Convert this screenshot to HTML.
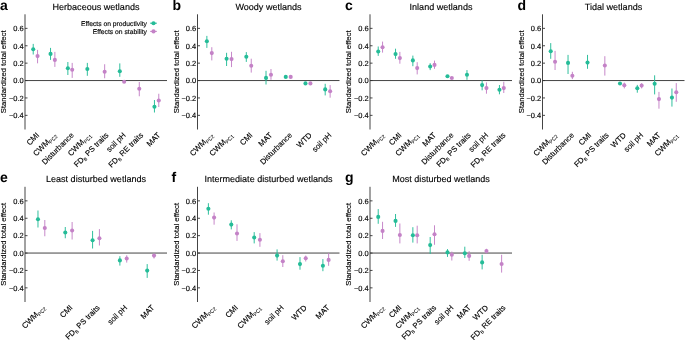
<!DOCTYPE html>
<html><head><meta charset="utf-8"><style>
html,body{margin:0;padding:0;background:#fff;width:685px;height:340px;overflow:hidden}
body{position:relative}
svg text{font-family:"Liberation Sans", sans-serif;fill:#000;stroke:#000;stroke-width:0.14px;text-rendering:geometricPrecision}
</style></head><body>
<svg width="685" height="340" viewBox="0 0 685 340" style="position:absolute;left:0;top:0;will-change:transform">
<text x="0.1" y="9.8" font-size="14" font-weight="bold" style="stroke-width:0">a</text>
<text x="96" y="9.9" font-size="9.05" text-anchor="middle">Herbaceous wetlands</text>
<text transform="translate(6.1,71.85) rotate(-90)" font-size="7.7" text-anchor="middle" style="text-rendering:optimizeLegibility">Standardized total effect</text>
<line x1="25" y1="14.3" x2="25" y2="129.5" stroke="#444" stroke-width="1"/>
<line x1="25" y1="80.55" x2="167" y2="80.55" stroke="#444" stroke-width="1"/>
<line x1="25" y1="28.35" x2="27.5" y2="28.35" stroke="#333" stroke-width="0.9"/>
<text x="23.7" y="31.1" font-size="7.5" text-anchor="end">0.6</text>
<line x1="25" y1="45.75" x2="27.5" y2="45.75" stroke="#333" stroke-width="0.9"/>
<text x="23.7" y="48.5" font-size="7.5" text-anchor="end">0.4</text>
<line x1="25" y1="63.15" x2="27.5" y2="63.15" stroke="#333" stroke-width="0.9"/>
<text x="23.7" y="65.9" font-size="7.5" text-anchor="end">0.2</text>
<line x1="25" y1="80.55" x2="27.5" y2="80.55" stroke="#333" stroke-width="0.9"/>
<text x="23.7" y="83.3" font-size="7.5" text-anchor="end">0.0</text>
<line x1="25" y1="97.95" x2="27.5" y2="97.95" stroke="#333" stroke-width="0.9"/>
<text x="23.7" y="100.7" font-size="7.5" text-anchor="end">−0.2</text>
<line x1="25" y1="115.35" x2="27.5" y2="115.35" stroke="#333" stroke-width="0.9"/>
<text x="23.7" y="118.1" font-size="7.5" text-anchor="end">−0.4</text>
<line x1="33.23" y1="43.9" x2="33.23" y2="54.5" stroke="#25bc98" stroke-width="0.95"/>
<circle cx="33.23" cy="49.2" r="2.05" fill="#25bc98"/>
<line x1="37.55" y1="49.9" x2="37.55" y2="63.3" stroke="#c482c7" stroke-width="0.95"/>
<circle cx="37.55" cy="56.1" r="2.05" fill="#c482c7"/>
<text transform="translate(39.74,135.65) rotate(-45)" text-anchor="end" font-size="7.8">CMI</text>
<line x1="50.54" y1="47.9" x2="50.54" y2="59.9" stroke="#25bc98" stroke-width="0.95"/>
<circle cx="50.54" cy="53.9" r="2.05" fill="#25bc98"/>
<line x1="54.87" y1="51.9" x2="54.87" y2="66.9" stroke="#c482c7" stroke-width="0.95"/>
<circle cx="54.87" cy="59.9" r="2.05" fill="#c482c7"/>
<text transform="translate(57.06,135.65) rotate(-45)" text-anchor="end" font-size="7.8">CWM<tspan font-size="5.1" dy="1.5" style="stroke-width:0.05px">PC2</tspan></text>
<line x1="67.86" y1="62" x2="67.86" y2="75" stroke="#25bc98" stroke-width="0.95"/>
<circle cx="67.86" cy="68.3" r="2.05" fill="#25bc98"/>
<line x1="72.19" y1="62.9" x2="72.19" y2="77.9" stroke="#c482c7" stroke-width="0.95"/>
<circle cx="72.19" cy="69.7" r="2.05" fill="#c482c7"/>
<text transform="translate(74.37,135.65) rotate(-45)" text-anchor="end" font-size="7.8">Disturbance</text>
<line x1="87.34" y1="62.9" x2="87.34" y2="75.8" stroke="#25bc98" stroke-width="0.95"/>
<circle cx="87.34" cy="69" r="2.05" fill="#25bc98"/>
<text transform="translate(91.69,135.65) rotate(-45)" text-anchor="end" font-size="7.8">CWM<tspan font-size="5.1" dy="1.5" style="stroke-width:0.05px">PC1</tspan></text>
<line x1="104.66" y1="64.25" x2="104.66" y2="78.25" stroke="#c482c7" stroke-width="0.95"/>
<circle cx="104.66" cy="71.75" r="2.05" fill="#c482c7"/>
<text transform="translate(109.01,135.65) rotate(-45)" text-anchor="end" font-size="7.8">FD<tspan font-size="4.7" dy="1.6" style="stroke-width:0.05px">B</tspan><tspan dy="-1.6"> PS traits</tspan></text>
<line x1="119.81" y1="63.4" x2="119.81" y2="76.8" stroke="#25bc98" stroke-width="0.95"/>
<circle cx="119.81" cy="71.2" r="2.05" fill="#25bc98"/>
<line x1="124.14" y1="80.8" x2="124.14" y2="82.8" stroke="#c482c7" stroke-width="0.95"/>
<circle cx="124.14" cy="81.8" r="2.05" fill="#c482c7"/>
<text transform="translate(126.33,135.65) rotate(-45)" text-anchor="end" font-size="7.8">soil pH</text>
<line x1="139.29" y1="82" x2="139.29" y2="96.25" stroke="#c482c7" stroke-width="0.95"/>
<circle cx="139.29" cy="88.75" r="2.05" fill="#c482c7"/>
<text transform="translate(143.64,135.65) rotate(-45)" text-anchor="end" font-size="7.8">FD<tspan font-size="4.7" dy="1.6" style="stroke-width:0.05px">B</tspan><tspan dy="-1.6"> RE traits</tspan></text>
<line x1="154.45" y1="100" x2="154.45" y2="112.5" stroke="#25bc98" stroke-width="0.95"/>
<circle cx="154.45" cy="106.75" r="2.05" fill="#25bc98"/>
<line x1="158.77" y1="93.75" x2="158.77" y2="107" stroke="#c482c7" stroke-width="0.95"/>
<circle cx="158.77" cy="100.5" r="2.05" fill="#c482c7"/>
<text transform="translate(160.96,135.65) rotate(-45)" text-anchor="end" font-size="7.8">MAT</text>
<text x="147" y="26" font-size="6.75" text-anchor="end">Effects on productivity</text>
<text x="147" y="34" font-size="6.75" text-anchor="end">Effects on stability</text>
<line x1="150.2" y1="23.2" x2="156.8" y2="23.2" stroke="#25bc98" stroke-width="1.1"/>
<circle cx="153.5" cy="23.2" r="2.05" fill="#25bc98"/>
<line x1="150.2" y1="31.4" x2="156.8" y2="31.4" stroke="#c482c7" stroke-width="1.1"/>
<circle cx="153.5" cy="31.4" r="2.05" fill="#c482c7"/>
<text x="172.6" y="9.8" font-size="14" font-weight="bold" style="stroke-width:0">b</text>
<text x="268.5" y="9.9" font-size="9.05" text-anchor="middle">Woody wetlands</text>
<text transform="translate(178.6,71.85) rotate(-90)" font-size="7.7" text-anchor="middle" style="text-rendering:optimizeLegibility">Standardized total effect</text>
<line x1="197.5" y1="14.3" x2="197.5" y2="129.5" stroke="#444" stroke-width="1"/>
<line x1="197.5" y1="80.55" x2="339.5" y2="80.55" stroke="#444" stroke-width="1"/>
<line x1="197.5" y1="28.35" x2="200" y2="28.35" stroke="#333" stroke-width="0.9"/>
<text x="196.2" y="31.1" font-size="7.5" text-anchor="end">0.6</text>
<line x1="197.5" y1="45.75" x2="200" y2="45.75" stroke="#333" stroke-width="0.9"/>
<text x="196.2" y="48.5" font-size="7.5" text-anchor="end">0.4</text>
<line x1="197.5" y1="63.15" x2="200" y2="63.15" stroke="#333" stroke-width="0.9"/>
<text x="196.2" y="65.9" font-size="7.5" text-anchor="end">0.2</text>
<line x1="197.5" y1="80.55" x2="200" y2="80.55" stroke="#333" stroke-width="0.9"/>
<text x="196.2" y="83.3" font-size="7.5" text-anchor="end">0.0</text>
<line x1="197.5" y1="97.95" x2="200" y2="97.95" stroke="#333" stroke-width="0.9"/>
<text x="196.2" y="100.7" font-size="7.5" text-anchor="end">−0.2</text>
<line x1="197.5" y1="115.35" x2="200" y2="115.35" stroke="#333" stroke-width="0.9"/>
<text x="196.2" y="118.1" font-size="7.5" text-anchor="end">−0.4</text>
<line x1="206.87" y1="35.9" x2="206.87" y2="47.9" stroke="#25bc98" stroke-width="0.95"/>
<circle cx="206.87" cy="41.3" r="2.05" fill="#25bc98"/>
<line x1="211.8" y1="47.2" x2="211.8" y2="60.4" stroke="#c482c7" stroke-width="0.95"/>
<circle cx="211.8" cy="53.1" r="2.05" fill="#c482c7"/>
<text transform="translate(213.68,135.65) rotate(-45)" text-anchor="end" font-size="7.8">CWM<tspan font-size="5.1" dy="1.5" style="stroke-width:0.05px">PC2</tspan></text>
<line x1="226.59" y1="52.8" x2="226.59" y2="66" stroke="#25bc98" stroke-width="0.95"/>
<circle cx="226.59" cy="58.7" r="2.05" fill="#25bc98"/>
<line x1="231.52" y1="51.8" x2="231.52" y2="67.1" stroke="#c482c7" stroke-width="0.95"/>
<circle cx="231.52" cy="59.1" r="2.05" fill="#c482c7"/>
<text transform="translate(233.41,135.65) rotate(-45)" text-anchor="end" font-size="7.8">CWM<tspan font-size="5.1" dy="1.5" style="stroke-width:0.05px">PC1</tspan></text>
<line x1="246.31" y1="52.1" x2="246.31" y2="61.9" stroke="#25bc98" stroke-width="0.95"/>
<circle cx="246.31" cy="56.8" r="2.05" fill="#25bc98"/>
<line x1="251.24" y1="58.7" x2="251.24" y2="72.6" stroke="#c482c7" stroke-width="0.95"/>
<circle cx="251.24" cy="65.7" r="2.05" fill="#c482c7"/>
<text transform="translate(253.13,135.65) rotate(-45)" text-anchor="end" font-size="7.8">CMI</text>
<line x1="266.03" y1="70.8" x2="266.03" y2="84.5" stroke="#25bc98" stroke-width="0.95"/>
<circle cx="266.03" cy="77.9" r="2.05" fill="#25bc98"/>
<line x1="270.97" y1="69" x2="270.97" y2="79.8" stroke="#c482c7" stroke-width="0.95"/>
<circle cx="270.97" cy="74.8" r="2.05" fill="#c482c7"/>
<text transform="translate(272.85,135.65) rotate(-45)" text-anchor="end" font-size="7.8">MAT</text>
<line x1="285.76" y1="76" x2="285.76" y2="77.8" stroke="#25bc98" stroke-width="0.95"/>
<circle cx="285.76" cy="76.9" r="2.05" fill="#25bc98"/>
<line x1="290.69" y1="76" x2="290.69" y2="77.8" stroke="#c482c7" stroke-width="0.95"/>
<circle cx="290.69" cy="76.9" r="2.05" fill="#c482c7"/>
<text transform="translate(292.57,135.65) rotate(-45)" text-anchor="end" font-size="7.8">Disturbance</text>
<line x1="305.48" y1="82.5" x2="305.48" y2="84.3" stroke="#25bc98" stroke-width="0.95"/>
<circle cx="305.48" cy="83.4" r="2.05" fill="#25bc98"/>
<line x1="310.41" y1="82.5" x2="310.41" y2="84.3" stroke="#c482c7" stroke-width="0.95"/>
<circle cx="310.41" cy="83.4" r="2.05" fill="#c482c7"/>
<text transform="translate(312.29,135.65) rotate(-45)" text-anchor="end" font-size="7.8">WTD</text>
<line x1="325.2" y1="83.8" x2="325.2" y2="95.4" stroke="#25bc98" stroke-width="0.95"/>
<circle cx="325.2" cy="89.4" r="2.05" fill="#25bc98"/>
<line x1="330.13" y1="85.1" x2="330.13" y2="97.7" stroke="#c482c7" stroke-width="0.95"/>
<circle cx="330.13" cy="91.3" r="2.05" fill="#c482c7"/>
<text transform="translate(332.02,135.65) rotate(-45)" text-anchor="end" font-size="7.8">soil pH</text>
<text x="345.1" y="9.8" font-size="14" font-weight="bold" style="stroke-width:0">c</text>
<text x="441" y="9.9" font-size="9.05" text-anchor="middle">Inland wetlands</text>
<text transform="translate(351.1,71.85) rotate(-90)" font-size="7.7" text-anchor="middle" style="text-rendering:optimizeLegibility">Standardized total effect</text>
<line x1="370" y1="14.3" x2="370" y2="129.5" stroke="#444" stroke-width="1"/>
<line x1="370" y1="80.55" x2="512" y2="80.55" stroke="#444" stroke-width="1"/>
<line x1="370" y1="28.35" x2="372.5" y2="28.35" stroke="#333" stroke-width="0.9"/>
<text x="368.7" y="31.1" font-size="7.5" text-anchor="end">0.6</text>
<line x1="370" y1="45.75" x2="372.5" y2="45.75" stroke="#333" stroke-width="0.9"/>
<text x="368.7" y="48.5" font-size="7.5" text-anchor="end">0.4</text>
<line x1="370" y1="63.15" x2="372.5" y2="63.15" stroke="#333" stroke-width="0.9"/>
<text x="368.7" y="65.9" font-size="7.5" text-anchor="end">0.2</text>
<line x1="370" y1="80.55" x2="372.5" y2="80.55" stroke="#333" stroke-width="0.9"/>
<text x="368.7" y="83.3" font-size="7.5" text-anchor="end">0.0</text>
<line x1="370" y1="97.95" x2="372.5" y2="97.95" stroke="#333" stroke-width="0.9"/>
<text x="368.7" y="100.7" font-size="7.5" text-anchor="end">−0.2</text>
<line x1="370" y1="115.35" x2="372.5" y2="115.35" stroke="#333" stroke-width="0.9"/>
<text x="368.7" y="118.1" font-size="7.5" text-anchor="end">−0.4</text>
<line x1="378.23" y1="46.5" x2="378.23" y2="55.9" stroke="#25bc98" stroke-width="0.95"/>
<circle cx="378.23" cy="51.5" r="2.05" fill="#25bc98"/>
<line x1="382.55" y1="41.6" x2="382.55" y2="52.6" stroke="#c482c7" stroke-width="0.95"/>
<circle cx="382.55" cy="47.2" r="2.05" fill="#c482c7"/>
<text transform="translate(384.74,135.65) rotate(-45)" text-anchor="end" font-size="7.8">CWM<tspan font-size="5.1" dy="1.5" style="stroke-width:0.05px">PC2</tspan></text>
<line x1="395.54" y1="48.7" x2="395.54" y2="58.8" stroke="#25bc98" stroke-width="0.95"/>
<circle cx="395.54" cy="54.1" r="2.05" fill="#25bc98"/>
<line x1="399.87" y1="51.9" x2="399.87" y2="63.7" stroke="#c482c7" stroke-width="0.95"/>
<circle cx="399.87" cy="58.1" r="2.05" fill="#c482c7"/>
<text transform="translate(402.06,135.65) rotate(-45)" text-anchor="end" font-size="7.8">CMI</text>
<line x1="412.86" y1="55.6" x2="412.86" y2="66.2" stroke="#25bc98" stroke-width="0.95"/>
<circle cx="412.86" cy="60.4" r="2.05" fill="#25bc98"/>
<line x1="417.19" y1="62.2" x2="417.19" y2="74.4" stroke="#c482c7" stroke-width="0.95"/>
<circle cx="417.19" cy="68.1" r="2.05" fill="#c482c7"/>
<text transform="translate(419.37,135.65) rotate(-45)" text-anchor="end" font-size="7.8">CWM<tspan font-size="5.1" dy="1.5" style="stroke-width:0.05px">PC1</tspan></text>
<line x1="430.18" y1="63.2" x2="430.18" y2="70.1" stroke="#25bc98" stroke-width="0.95"/>
<circle cx="430.18" cy="66.5" r="2.05" fill="#25bc98"/>
<line x1="434.51" y1="60.6" x2="434.51" y2="68.8" stroke="#c482c7" stroke-width="0.95"/>
<circle cx="434.51" cy="64.9" r="2.05" fill="#c482c7"/>
<text transform="translate(436.69,135.65) rotate(-45)" text-anchor="end" font-size="7.8">MAT</text>
<line x1="447.49" y1="75" x2="447.49" y2="77.4" stroke="#25bc98" stroke-width="0.95"/>
<circle cx="447.49" cy="76.2" r="2.05" fill="#25bc98"/>
<line x1="451.82" y1="77" x2="451.82" y2="79" stroke="#c482c7" stroke-width="0.95"/>
<circle cx="451.82" cy="78" r="2.05" fill="#c482c7"/>
<text transform="translate(454.01,135.65) rotate(-45)" text-anchor="end" font-size="7.8">Disturbance</text>
<line x1="466.98" y1="70.1" x2="466.98" y2="79.8" stroke="#25bc98" stroke-width="0.95"/>
<circle cx="466.98" cy="74.7" r="2.05" fill="#25bc98"/>
<text transform="translate(471.33,135.65) rotate(-45)" text-anchor="end" font-size="7.8">FD<tspan font-size="4.7" dy="1.6" style="stroke-width:0.05px">B</tspan><tspan dy="-1.6"> PS traits</tspan></text>
<line x1="482.13" y1="80.4" x2="482.13" y2="90.3" stroke="#25bc98" stroke-width="0.95"/>
<circle cx="482.13" cy="85.1" r="2.05" fill="#25bc98"/>
<line x1="486.46" y1="82.4" x2="486.46" y2="93.7" stroke="#c482c7" stroke-width="0.95"/>
<circle cx="486.46" cy="88.1" r="2.05" fill="#c482c7"/>
<text transform="translate(488.64,135.65) rotate(-45)" text-anchor="end" font-size="7.8">soil pH</text>
<line x1="499.45" y1="85" x2="499.45" y2="94.3" stroke="#25bc98" stroke-width="0.95"/>
<circle cx="499.45" cy="89.7" r="2.05" fill="#25bc98"/>
<line x1="503.77" y1="81.7" x2="503.77" y2="93" stroke="#c482c7" stroke-width="0.95"/>
<circle cx="503.77" cy="88.1" r="2.05" fill="#c482c7"/>
<text transform="translate(505.96,135.65) rotate(-45)" text-anchor="end" font-size="7.8">FD<tspan font-size="4.7" dy="1.6" style="stroke-width:0.05px">B</tspan><tspan dy="-1.6"> RE traits</tspan></text>
<text x="517.6" y="9.8" font-size="14" font-weight="bold" style="stroke-width:0">d</text>
<text x="613.5" y="9.9" font-size="9.05" text-anchor="middle">Tidal wetlands</text>
<text transform="translate(523.6,71.85) rotate(-90)" font-size="7.7" text-anchor="middle" style="text-rendering:optimizeLegibility">Standardized total effect</text>
<line x1="542.5" y1="14.3" x2="542.5" y2="129.5" stroke="#444" stroke-width="1"/>
<line x1="542.5" y1="80.55" x2="684.5" y2="80.55" stroke="#444" stroke-width="1"/>
<line x1="542.5" y1="28.35" x2="545" y2="28.35" stroke="#333" stroke-width="0.9"/>
<text x="541.2" y="31.1" font-size="7.5" text-anchor="end">0.6</text>
<line x1="542.5" y1="45.75" x2="545" y2="45.75" stroke="#333" stroke-width="0.9"/>
<text x="541.2" y="48.5" font-size="7.5" text-anchor="end">0.4</text>
<line x1="542.5" y1="63.15" x2="545" y2="63.15" stroke="#333" stroke-width="0.9"/>
<text x="541.2" y="65.9" font-size="7.5" text-anchor="end">0.2</text>
<line x1="542.5" y1="80.55" x2="545" y2="80.55" stroke="#333" stroke-width="0.9"/>
<text x="541.2" y="83.3" font-size="7.5" text-anchor="end">0.0</text>
<line x1="542.5" y1="97.95" x2="545" y2="97.95" stroke="#333" stroke-width="0.9"/>
<text x="541.2" y="100.7" font-size="7.5" text-anchor="end">−0.2</text>
<line x1="542.5" y1="115.35" x2="545" y2="115.35" stroke="#333" stroke-width="0.9"/>
<text x="541.2" y="118.1" font-size="7.5" text-anchor="end">−0.4</text>
<line x1="550.73" y1="43.1" x2="550.73" y2="58.8" stroke="#25bc98" stroke-width="0.95"/>
<circle cx="550.73" cy="51.2" r="2.05" fill="#25bc98"/>
<line x1="555.05" y1="50.9" x2="555.05" y2="70" stroke="#c482c7" stroke-width="0.95"/>
<circle cx="555.05" cy="61.8" r="2.05" fill="#c482c7"/>
<text transform="translate(557.24,135.65) rotate(-45)" text-anchor="end" font-size="7.8">CWM<tspan font-size="5.1" dy="1.5" style="stroke-width:0.05px">PC2</tspan></text>
<line x1="568.04" y1="54.9" x2="568.04" y2="74" stroke="#25bc98" stroke-width="0.95"/>
<circle cx="568.04" cy="62.9" r="2.05" fill="#25bc98"/>
<line x1="572.37" y1="71.8" x2="572.37" y2="79.1" stroke="#c482c7" stroke-width="0.95"/>
<circle cx="572.37" cy="75.7" r="2.05" fill="#c482c7"/>
<text transform="translate(574.56,135.65) rotate(-45)" text-anchor="end" font-size="7.8">Disturbance</text>
<line x1="587.52" y1="54.9" x2="587.52" y2="68.8" stroke="#25bc98" stroke-width="0.95"/>
<circle cx="587.52" cy="62.6" r="2.05" fill="#25bc98"/>
<text transform="translate(591.87,135.65) rotate(-45)" text-anchor="end" font-size="7.8">CMI</text>
<line x1="604.84" y1="56.2" x2="604.84" y2="75.6" stroke="#c482c7" stroke-width="0.95"/>
<circle cx="604.84" cy="65.5" r="2.05" fill="#c482c7"/>
<text transform="translate(609.19,135.65) rotate(-45)" text-anchor="end" font-size="7.8">FD<tspan font-size="4.7" dy="1.6" style="stroke-width:0.05px">B</tspan><tspan dy="-1.6"> PS traits</tspan></text>
<line x1="619.99" y1="82.5" x2="619.99" y2="84.5" stroke="#25bc98" stroke-width="0.95"/>
<circle cx="619.99" cy="83.5" r="2.05" fill="#25bc98"/>
<line x1="624.32" y1="82.6" x2="624.32" y2="88.4" stroke="#c482c7" stroke-width="0.95"/>
<circle cx="624.32" cy="85.3" r="2.05" fill="#c482c7"/>
<text transform="translate(626.51,135.65) rotate(-45)" text-anchor="end" font-size="7.8">WTD</text>
<line x1="637.31" y1="84.9" x2="637.31" y2="92.7" stroke="#25bc98" stroke-width="0.95"/>
<circle cx="637.31" cy="88.3" r="2.05" fill="#25bc98"/>
<line x1="641.64" y1="83.2" x2="641.64" y2="88.4" stroke="#c482c7" stroke-width="0.95"/>
<circle cx="641.64" cy="85.6" r="2.05" fill="#c482c7"/>
<text transform="translate(643.83,135.65) rotate(-45)" text-anchor="end" font-size="7.8">soil pH</text>
<line x1="654.63" y1="75.3" x2="654.63" y2="94.4" stroke="#25bc98" stroke-width="0.95"/>
<circle cx="654.63" cy="83.8" r="2.05" fill="#25bc98"/>
<line x1="658.96" y1="91.9" x2="658.96" y2="108.7" stroke="#c482c7" stroke-width="0.95"/>
<circle cx="658.96" cy="99.1" r="2.05" fill="#c482c7"/>
<text transform="translate(661.14,135.65) rotate(-45)" text-anchor="end" font-size="7.8">MAT</text>
<line x1="671.95" y1="88.5" x2="671.95" y2="106.6" stroke="#25bc98" stroke-width="0.95"/>
<circle cx="671.95" cy="97.6" r="2.05" fill="#25bc98"/>
<line x1="676.27" y1="83.1" x2="676.27" y2="101.8" stroke="#c482c7" stroke-width="0.95"/>
<circle cx="676.27" cy="92.2" r="2.05" fill="#c482c7"/>
<text transform="translate(678.46,135.65) rotate(-45)" text-anchor="end" font-size="7.8">CWM<tspan font-size="5.1" dy="1.5" style="stroke-width:0.05px">PC1</tspan></text>
<text x="0.1" y="182.3" font-size="14" font-weight="bold" style="stroke-width:0">e</text>
<text x="96" y="182.4" font-size="9.05" text-anchor="middle">Least disturbed wetlands</text>
<text transform="translate(6.1,244.35) rotate(-90)" font-size="7.7" text-anchor="middle" style="text-rendering:optimizeLegibility">Standardized total effect</text>
<line x1="25" y1="186.8" x2="25" y2="302" stroke="#444" stroke-width="1"/>
<line x1="25" y1="253.05" x2="167" y2="253.05" stroke="#444" stroke-width="1"/>
<line x1="25" y1="200.85" x2="27.5" y2="200.85" stroke="#333" stroke-width="0.9"/>
<text x="23.7" y="203.6" font-size="7.5" text-anchor="end">0.6</text>
<line x1="25" y1="218.25" x2="27.5" y2="218.25" stroke="#333" stroke-width="0.9"/>
<text x="23.7" y="221" font-size="7.5" text-anchor="end">0.4</text>
<line x1="25" y1="235.65" x2="27.5" y2="235.65" stroke="#333" stroke-width="0.9"/>
<text x="23.7" y="238.4" font-size="7.5" text-anchor="end">0.2</text>
<line x1="25" y1="253.05" x2="27.5" y2="253.05" stroke="#333" stroke-width="0.9"/>
<text x="23.7" y="255.8" font-size="7.5" text-anchor="end">0.0</text>
<line x1="25" y1="270.45" x2="27.5" y2="270.45" stroke="#333" stroke-width="0.9"/>
<text x="23.7" y="273.2" font-size="7.5" text-anchor="end">−0.2</text>
<line x1="25" y1="287.85" x2="27.5" y2="287.85" stroke="#333" stroke-width="0.9"/>
<text x="23.7" y="290.6" font-size="7.5" text-anchor="end">−0.4</text>
<line x1="37.97" y1="210.5" x2="37.97" y2="227.5" stroke="#25bc98" stroke-width="0.95"/>
<circle cx="37.97" cy="219.25" r="2.05" fill="#25bc98"/>
<line x1="44.8" y1="220" x2="44.8" y2="236.25" stroke="#c482c7" stroke-width="0.95"/>
<circle cx="44.8" cy="228" r="2.05" fill="#c482c7"/>
<text transform="translate(45.73,308.15) rotate(-45)" text-anchor="end" font-size="7.8">CWM<tspan font-size="5.1" dy="1.5" style="stroke-width:0.05px">PC2</tspan></text>
<line x1="65.28" y1="227" x2="65.28" y2="238.25" stroke="#25bc98" stroke-width="0.95"/>
<circle cx="65.28" cy="232.5" r="2.05" fill="#25bc98"/>
<line x1="72.11" y1="222" x2="72.11" y2="239.5" stroke="#c482c7" stroke-width="0.95"/>
<circle cx="72.11" cy="230.5" r="2.05" fill="#c482c7"/>
<text transform="translate(73.04,308.15) rotate(-45)" text-anchor="end" font-size="7.8">CMI</text>
<line x1="92.59" y1="230.9" x2="92.59" y2="248.5" stroke="#25bc98" stroke-width="0.95"/>
<circle cx="92.59" cy="240.2" r="2.05" fill="#25bc98"/>
<line x1="99.41" y1="229.1" x2="99.41" y2="245.5" stroke="#c482c7" stroke-width="0.95"/>
<circle cx="99.41" cy="238.3" r="2.05" fill="#c482c7"/>
<text transform="translate(100.35,308.15) rotate(-45)" text-anchor="end" font-size="7.8">FD<tspan font-size="4.7" dy="1.6" style="stroke-width:0.05px">B</tspan><tspan dy="-1.6"> PS traits</tspan></text>
<line x1="119.89" y1="256.2" x2="119.89" y2="265.6" stroke="#25bc98" stroke-width="0.95"/>
<circle cx="119.89" cy="260.4" r="2.05" fill="#25bc98"/>
<line x1="126.72" y1="255.3" x2="126.72" y2="262.6" stroke="#c482c7" stroke-width="0.95"/>
<circle cx="126.72" cy="258.5" r="2.05" fill="#c482c7"/>
<text transform="translate(127.66,308.15) rotate(-45)" text-anchor="end" font-size="7.8">soil pH</text>
<line x1="147.2" y1="264.1" x2="147.2" y2="277.9" stroke="#25bc98" stroke-width="0.95"/>
<circle cx="147.2" cy="270.6" r="2.05" fill="#25bc98"/>
<line x1="154.03" y1="253.9" x2="154.03" y2="258.5" stroke="#c482c7" stroke-width="0.95"/>
<circle cx="154.03" cy="255.6" r="2.05" fill="#c482c7"/>
<text transform="translate(154.97,308.15) rotate(-45)" text-anchor="end" font-size="7.8">MAT</text>
<text x="171.6" y="182.3" font-size="14" font-weight="bold" style="stroke-width:0">f</text>
<text x="268.5" y="182.4" font-size="9.05" text-anchor="middle">Intermediate disturbed wetlands</text>
<text transform="translate(178.6,244.35) rotate(-90)" font-size="7.7" text-anchor="middle" style="text-rendering:optimizeLegibility">Standardized total effect</text>
<line x1="197.5" y1="186.8" x2="197.5" y2="302" stroke="#444" stroke-width="1"/>
<line x1="197.5" y1="253.05" x2="339.5" y2="253.05" stroke="#444" stroke-width="1"/>
<line x1="197.5" y1="200.85" x2="200" y2="200.85" stroke="#333" stroke-width="0.9"/>
<text x="196.2" y="203.6" font-size="7.5" text-anchor="end">0.6</text>
<line x1="197.5" y1="218.25" x2="200" y2="218.25" stroke="#333" stroke-width="0.9"/>
<text x="196.2" y="221" font-size="7.5" text-anchor="end">0.4</text>
<line x1="197.5" y1="235.65" x2="200" y2="235.65" stroke="#333" stroke-width="0.9"/>
<text x="196.2" y="238.4" font-size="7.5" text-anchor="end">0.2</text>
<line x1="197.5" y1="253.05" x2="200" y2="253.05" stroke="#333" stroke-width="0.9"/>
<text x="196.2" y="255.8" font-size="7.5" text-anchor="end">0.0</text>
<line x1="197.5" y1="270.45" x2="200" y2="270.45" stroke="#333" stroke-width="0.9"/>
<text x="196.2" y="273.2" font-size="7.5" text-anchor="end">−0.2</text>
<line x1="197.5" y1="287.85" x2="200" y2="287.85" stroke="#333" stroke-width="0.9"/>
<text x="196.2" y="290.6" font-size="7.5" text-anchor="end">−0.4</text>
<line x1="208.38" y1="203.2" x2="208.38" y2="214.7" stroke="#25bc98" stroke-width="0.95"/>
<circle cx="208.38" cy="208.8" r="2.05" fill="#25bc98"/>
<line x1="214.1" y1="212.5" x2="214.1" y2="224.7" stroke="#c482c7" stroke-width="0.95"/>
<circle cx="214.1" cy="217.6" r="2.05" fill="#c482c7"/>
<text transform="translate(215.59,308.15) rotate(-45)" text-anchor="end" font-size="7.8">CWM<tspan font-size="5.1" dy="1.5" style="stroke-width:0.05px">PC2</tspan></text>
<line x1="231.28" y1="220.3" x2="231.28" y2="229.4" stroke="#25bc98" stroke-width="0.95"/>
<circle cx="231.28" cy="224.6" r="2.05" fill="#25bc98"/>
<line x1="237.01" y1="224.3" x2="237.01" y2="240.9" stroke="#c482c7" stroke-width="0.95"/>
<circle cx="237.01" cy="233.5" r="2.05" fill="#c482c7"/>
<text transform="translate(238.5,308.15) rotate(-45)" text-anchor="end" font-size="7.8">CMI</text>
<line x1="254.19" y1="232.1" x2="254.19" y2="243.4" stroke="#25bc98" stroke-width="0.95"/>
<circle cx="254.19" cy="237.5" r="2.05" fill="#25bc98"/>
<line x1="259.91" y1="233.1" x2="259.91" y2="246.8" stroke="#c482c7" stroke-width="0.95"/>
<circle cx="259.91" cy="239.7" r="2.05" fill="#c482c7"/>
<text transform="translate(261.4,308.15) rotate(-45)" text-anchor="end" font-size="7.8">CWM<tspan font-size="5.1" dy="1.5" style="stroke-width:0.05px">PC1</tspan></text>
<line x1="277.09" y1="249.4" x2="277.09" y2="260.6" stroke="#25bc98" stroke-width="0.95"/>
<circle cx="277.09" cy="255.6" r="2.05" fill="#25bc98"/>
<line x1="282.81" y1="255.2" x2="282.81" y2="267" stroke="#c482c7" stroke-width="0.95"/>
<circle cx="282.81" cy="261.2" r="2.05" fill="#c482c7"/>
<text transform="translate(284.3,308.15) rotate(-45)" text-anchor="end" font-size="7.8">soil pH</text>
<line x1="299.99" y1="257.1" x2="299.99" y2="269.7" stroke="#25bc98" stroke-width="0.95"/>
<circle cx="299.99" cy="264.1" r="2.05" fill="#25bc98"/>
<line x1="305.72" y1="255.6" x2="305.72" y2="261.5" stroke="#c482c7" stroke-width="0.95"/>
<circle cx="305.72" cy="258.2" r="2.05" fill="#c482c7"/>
<text transform="translate(307.2,308.15) rotate(-45)" text-anchor="end" font-size="7.8">WTD</text>
<line x1="322.9" y1="259.1" x2="322.9" y2="271.2" stroke="#25bc98" stroke-width="0.95"/>
<circle cx="322.9" cy="265.8" r="2.05" fill="#25bc98"/>
<line x1="328.62" y1="253.2" x2="328.62" y2="265.8" stroke="#c482c7" stroke-width="0.95"/>
<circle cx="328.62" cy="259.9" r="2.05" fill="#c482c7"/>
<text transform="translate(330.11,308.15) rotate(-45)" text-anchor="end" font-size="7.8">MAT</text>
<text x="345.1" y="182.3" font-size="14" font-weight="bold" style="stroke-width:0">g</text>
<text x="441" y="182.4" font-size="9.05" text-anchor="middle">Most disturbed wetlands</text>
<text transform="translate(351.1,244.35) rotate(-90)" font-size="7.7" text-anchor="middle" style="text-rendering:optimizeLegibility">Standardized total effect</text>
<line x1="370" y1="186.8" x2="370" y2="302" stroke="#444" stroke-width="1"/>
<line x1="370" y1="253.05" x2="512" y2="253.05" stroke="#444" stroke-width="1"/>
<line x1="370" y1="200.85" x2="372.5" y2="200.85" stroke="#333" stroke-width="0.9"/>
<text x="368.7" y="203.6" font-size="7.5" text-anchor="end">0.6</text>
<line x1="370" y1="218.25" x2="372.5" y2="218.25" stroke="#333" stroke-width="0.9"/>
<text x="368.7" y="221" font-size="7.5" text-anchor="end">0.4</text>
<line x1="370" y1="235.65" x2="372.5" y2="235.65" stroke="#333" stroke-width="0.9"/>
<text x="368.7" y="238.4" font-size="7.5" text-anchor="end">0.2</text>
<line x1="370" y1="253.05" x2="372.5" y2="253.05" stroke="#333" stroke-width="0.9"/>
<text x="368.7" y="255.8" font-size="7.5" text-anchor="end">0.0</text>
<line x1="370" y1="270.45" x2="372.5" y2="270.45" stroke="#333" stroke-width="0.9"/>
<text x="368.7" y="273.2" font-size="7.5" text-anchor="end">−0.2</text>
<line x1="370" y1="287.85" x2="372.5" y2="287.85" stroke="#333" stroke-width="0.9"/>
<text x="368.7" y="290.6" font-size="7.5" text-anchor="end">−0.4</text>
<line x1="378.23" y1="209.1" x2="378.23" y2="223.8" stroke="#25bc98" stroke-width="0.95"/>
<circle cx="378.23" cy="216.9" r="2.05" fill="#25bc98"/>
<line x1="382.55" y1="221.8" x2="382.55" y2="239" stroke="#c482c7" stroke-width="0.95"/>
<circle cx="382.55" cy="230.9" r="2.05" fill="#c482c7"/>
<text transform="translate(384.74,308.15) rotate(-45)" text-anchor="end" font-size="7.8">CWM<tspan font-size="5.1" dy="1.5" style="stroke-width:0.05px">PC2</tspan></text>
<line x1="395.54" y1="214" x2="395.54" y2="226.9" stroke="#25bc98" stroke-width="0.95"/>
<circle cx="395.54" cy="220.9" r="2.05" fill="#25bc98"/>
<line x1="399.87" y1="223.5" x2="399.87" y2="243.4" stroke="#c482c7" stroke-width="0.95"/>
<circle cx="399.87" cy="235" r="2.05" fill="#c482c7"/>
<text transform="translate(402.06,308.15) rotate(-45)" text-anchor="end" font-size="7.8">CMI</text>
<line x1="412.86" y1="227.2" x2="412.86" y2="242.6" stroke="#25bc98" stroke-width="0.95"/>
<circle cx="412.86" cy="235.3" r="2.05" fill="#25bc98"/>
<line x1="417.19" y1="225.7" x2="417.19" y2="243.4" stroke="#c482c7" stroke-width="0.95"/>
<circle cx="417.19" cy="235.3" r="2.05" fill="#c482c7"/>
<text transform="translate(419.37,308.15) rotate(-45)" text-anchor="end" font-size="7.8">CWM<tspan font-size="5.1" dy="1.5" style="stroke-width:0.05px">PC1</tspan></text>
<line x1="430.18" y1="237" x2="430.18" y2="254" stroke="#25bc98" stroke-width="0.95"/>
<circle cx="430.18" cy="245.1" r="2.05" fill="#25bc98"/>
<line x1="434.51" y1="225.3" x2="434.51" y2="244.8" stroke="#c482c7" stroke-width="0.95"/>
<circle cx="434.51" cy="234.2" r="2.05" fill="#c482c7"/>
<text transform="translate(436.69,308.15) rotate(-45)" text-anchor="end" font-size="7.8">FD<tspan font-size="4.7" dy="1.6" style="stroke-width:0.05px">B</tspan><tspan dy="-1.6"> PS traits</tspan></text>
<line x1="447.49" y1="249.1" x2="447.49" y2="256.9" stroke="#25bc98" stroke-width="0.95"/>
<circle cx="447.49" cy="252.4" r="2.05" fill="#25bc98"/>
<line x1="451.82" y1="251.6" x2="451.82" y2="260.5" stroke="#c482c7" stroke-width="0.95"/>
<circle cx="451.82" cy="254.8" r="2.05" fill="#c482c7"/>
<text transform="translate(454.01,308.15) rotate(-45)" text-anchor="end" font-size="7.8">soil pH</text>
<line x1="464.81" y1="246.7" x2="464.81" y2="258" stroke="#25bc98" stroke-width="0.95"/>
<circle cx="464.81" cy="253.2" r="2.05" fill="#25bc98"/>
<line x1="469.14" y1="251.1" x2="469.14" y2="260.8" stroke="#c482c7" stroke-width="0.95"/>
<circle cx="469.14" cy="255.9" r="2.05" fill="#c482c7"/>
<text transform="translate(471.33,308.15) rotate(-45)" text-anchor="end" font-size="7.8">MAT</text>
<line x1="482.13" y1="254.8" x2="482.13" y2="269.4" stroke="#25bc98" stroke-width="0.95"/>
<circle cx="482.13" cy="262.4" r="2.05" fill="#25bc98"/>
<line x1="486.46" y1="248.8" x2="486.46" y2="253.2" stroke="#c482c7" stroke-width="0.95"/>
<circle cx="486.46" cy="251.1" r="2.05" fill="#c482c7"/>
<text transform="translate(488.64,308.15) rotate(-45)" text-anchor="end" font-size="7.8">WTD</text>
<line x1="501.61" y1="254.8" x2="501.61" y2="272.6" stroke="#c482c7" stroke-width="0.95"/>
<circle cx="501.61" cy="264" r="2.05" fill="#c482c7"/>
<text transform="translate(505.96,308.15) rotate(-45)" text-anchor="end" font-size="7.8">FD<tspan font-size="4.7" dy="1.6" style="stroke-width:0.05px">B</tspan><tspan dy="-1.6"> RE traits</tspan></text>
</svg>
</body></html>
